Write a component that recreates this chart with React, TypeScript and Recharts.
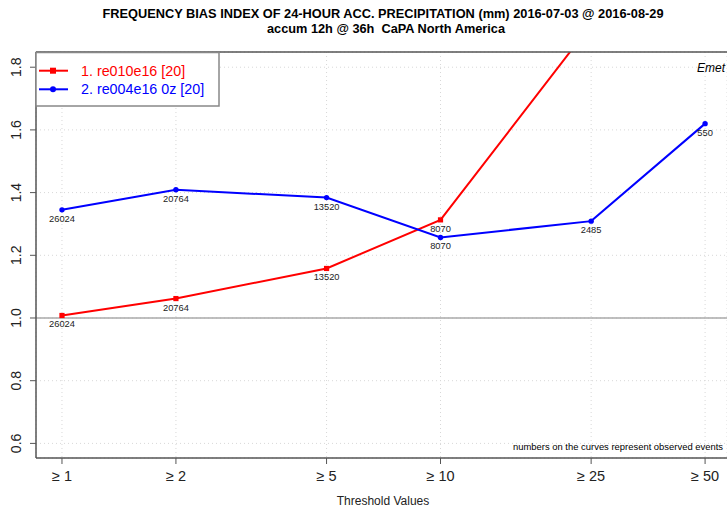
import React from "react";
import { LineChart, Line, XAxis, YAxis, CartesianGrid, ReferenceLine, LabelList } from "recharts";

const thresholds = [1, 2, 5, 10, 25, 50];
const tickLabels = ["≥ 1", "≥ 2", "≥ 5", "≥ 10", "≥ 25", "≥ 50"];
const re010e16 = [1.008, 1.062, 1.158, 1.313, 1.936, 2.15];
const re004e16 = [1.345, 1.409, 1.384, 1.257, 1.309, 1.62];
const observedEvents = [26024, 20764, 13520, 8070, 2485, 550];
const yTicks = [0.6, 0.8, 1.0, 1.2, 1.4, 1.6, 1.8];
const seriesNames = ["1. re010e16 [20]", "2. re004e16 0z [20]"];
const seriesColors = ["#ff0000", "#0000ff"];

const X_DOMAIN: [number, number] = [0.8538, 57.13];
const Y_DOMAIN: [number, number] = [0.5534, 1.8485];

const data = thresholds.map((t, i) => ({
  t,
  label: tickLabels[i],
  red: re010e16[i],
  blue: re004e16[i],
  events: observedEvents[i],
}));

const FONT = "'Liberation Sans', Arial, Helvetica, sans-serif";
const W = 727;
const H = 509;
const M_TOP = 52;
const Y_W = 36;
const X_H = 51;

const YTick = (props: any) => {
  const { x, y, payload } = props;
  return (
    <text
      transform={`translate(${x - 7},${y}) rotate(-90)`}
      textAnchor="middle"
      fontSize={14}
      fill="#222"
      fontFamily={FONT}
    >
      {Number(payload.value).toFixed(1)}
    </text>
  );
};

const XTick = (props: any) => {
  const { x, y, payload } = props;
  const idx = thresholds.indexOf(payload.value);
  return (
    <text x={x} y={y + 15} textAnchor="middle" fontSize={14.5} fill="#222" fontFamily={FONT}>
      {idx >= 0 ? tickLabels[idx] : payload.value}
    </text>
  );
};

const makeLabel = (vals: number[]) => (props: any) => {
  const { x, y, value, index } = props;
  if (vals[index] > Y_DOMAIN[1] || vals[index] < Y_DOMAIN[0]) return null;
  return (
    <text key={`l${index}`} x={x} y={y + 12} textAnchor="middle" fontSize={9.3} fill="#222" fontFamily={FONT}>
      {value}
    </text>
  );
};

const SquareDot = (props: any) => {
  const { cx, cy, index, payload } = props;
  if (payload.red > Y_DOMAIN[1]) return <g key={`s${index}`} />;
  return <rect key={`s${index}`} x={cx - 2.6} y={cy - 2.6} width={5.2} height={5.2} fill="#ff0000" />;
};

const CircleDot = (props: any) => {
  const { cx, cy, index } = props;
  return <circle key={`c${index}`} cx={cx} cy={cy} r={2.7} fill="#0000ff" />;
};

export default function App() {
  return (
    <div style={{ position: "absolute", left: 0, top: 0, width: W, height: H, background: "#fff" }}>
      <LineChart width={W} height={H} data={data} margin={{ top: M_TOP, right: 0, left: 0, bottom: 0 }}>
        <CartesianGrid stroke="#d8d8d8" strokeDasharray="1 3" horizontal={true} vertical={true} />
        <XAxis
          dataKey="t"
          type="number"
          scale="log"
          domain={X_DOMAIN}
          allowDataOverflow
          ticks={thresholds}
          interval={0}
          height={X_H}
          tick={<XTick />}
          tickSize={6}
          axisLine={{ stroke: "#555", strokeWidth: 1.5 }}
          tickLine={{ stroke: "#555", strokeWidth: 1 }}
        />
        <YAxis
          type="number"
          domain={Y_DOMAIN}
          allowDataOverflow
          ticks={yTicks}
          interval={0}
          width={Y_W}
          tick={<YTick />}
          tickSize={6}
          axisLine={{ stroke: "#555", strokeWidth: 1.5 }}
          tickLine={{ stroke: "#555", strokeWidth: 1 }}
        />
        <ReferenceLine y={1} stroke="#aaaaaa" strokeWidth={1.5} />
        <Line
          dataKey="red"
          stroke="#ff0000"
          strokeWidth={2}
          dot={<SquareDot />}
          activeDot={false}
          isAnimationActive={false}
        >
          <LabelList dataKey="events" content={makeLabel(re010e16)} />
        </Line>
        <Line
          dataKey="blue"
          stroke="#0000ff"
          strokeWidth={2}
          dot={<CircleDot />}
          activeDot={false}
          isAnimationActive={false}
        >
          <LabelList dataKey="events" content={makeLabel(re004e16)} />
        </Line>
      </LineChart>

      <svg
        width={W}
        height={H}
        style={{ position: "absolute", left: 0, top: 0, pointerEvents: "none" }}
        fontFamily={FONT}
      >
        <line x1={Y_W} y1={M_TOP} x2={W} y2={M_TOP} stroke="#555" strokeWidth={1.5} />
        <text x={383} y={18} textAnchor="middle" fontSize={12.5} fontWeight="bold" fill="#000" textLength={561} lengthAdjust="spacingAndGlyphs">
          FREQUENCY BIAS INDEX OF 24-HOUR ACC. PRECIPITATION (mm) 2016-07-03 @ 2016-08-29
        </text>
        <text x={386} y={33} textAnchor="middle" fontSize={12.5} fontWeight="bold" fill="#000" textLength={238} lengthAdjust="spacingAndGlyphs">
          {"accum 12h @ 36h\u00a0 CaPA North America"}
        </text>
        <text x={725} y={72} textAnchor="end" fontSize={12} fontStyle="italic" fill="#000">
          Emet
        </text>
        <text x={723} y={450} textAnchor="end" fontSize={9.5} fill="#000" textLength={210} lengthAdjust="spacingAndGlyphs">
          numbers on the curves represent observed events
        </text>
        <text x={383} y={505} textAnchor="middle" fontSize={12} fill="#222">
          Threshold Values
        </text>
        <g>
          <rect x={36} y={52.5} width={183} height={53.5} fill="#fff" stroke="#888" strokeWidth={1.5} />
          {seriesNames.map((name, i) => {
            const cy = 70.7 + i * 18.6;
            return (
              <g key={name}>
                <line x1={39} y1={cy} x2={68} y2={cy} stroke={seriesColors[i]} strokeWidth={2} />
                {i === 0 ? (
                  <rect x={50} y={cy - 3} width={6} height={6} fill={seriesColors[i]} />
                ) : (
                  <circle cx={53} cy={cy} r={3} fill={seriesColors[i]} />
                )}
                <text x={81} y={cy + 5} fontSize={14.3} fill={seriesColors[i]}>
                  {name}
                </text>
              </g>
            );
          })}
        </g>
      </svg>
    </div>
  );
}
